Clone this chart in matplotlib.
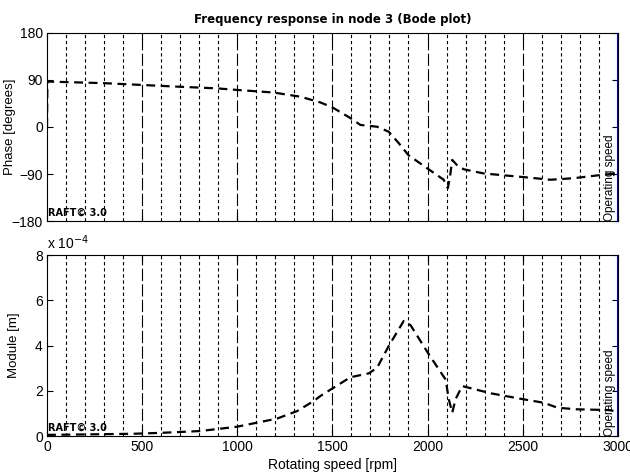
import matplotlib
matplotlib.use("Agg")
import matplotlib.pyplot as plt
import numpy as np

plt.rcParams.update({
    "font.family": ["Liberation Sans", "DejaVu Sans"],
    "font.size": 10,
    "xtick.direction": "in",
    "ytick.direction": "in",
    "xtick.major.size": 4,
    "ytick.major.size": 4,
})

# --- phase response [deg] vs rotating speed [rpm] ---
phase_rpm = [0, 2, 100, 295, 498, 700, 893, 998, 1191, 1332, 1437, 1498, 1595,
             1647, 1735, 1796, 1849, 1900, 1998, 2085, 2107, 2118, 2130, 2160,
             2191, 2296, 2507, 2647, 2769, 2909, 2990]
phase_deg = [0, 87, 86, 84, 80.5, 77, 74, 71, 66, 58, 47, 38, 17,
             4, 0.5, -9, -31, -54, -79, -101, -117, -95, -63, -75,
             -81, -89, -96, -101, -98, -92, -89]

# --- module [x 1e-4 m] vs rotating speed [rpm] ---
module_rpm = [0, 200, 455, 600, 805, 998, 1209, 1314, 1402, 1437, 1507, 1595,
              1691, 1735, 1796, 1875, 1911, 2007, 2095, 2112, 2130, 2147,
              2182, 2332, 2507, 2612, 2683, 2788, 2946, 2990]
module_e4 = [0.05, 0.07, 0.1, 0.14, 0.22, 0.41, 0.77, 1.1, 1.55, 1.77, 2.14, 2.6,
             2.77, 3.02, 3.98, 5.09, 4.9, 3.61, 2.5, 1.62, 1.03, 1.62,
             2.21, 1.89, 1.62, 1.47, 1.25, 1.18, 1.15, 1.1]

speed_ticks = [0, 500, 1000, 1500, 2000, 2500, 3000]
phase_ticks = [-180, -90, 0, 90, 180]
module_ticks = [0, 2, 4, 6, 8]
operating_speed = 3000

fig = plt.figure(figsize=(6.3, 4.76), dpi=100)
ax1 = fig.add_axes([0.0746, 0.5357, 0.906, 0.395])
ax2 = fig.add_axes([0.0746, 0.0840, 0.906, 0.380])

grid_minor = np.arange(100, 3000, 100)


def decorate(ax):
    for x in grid_minor:
        if x % 500 == 0:
            ax.axvline(x, color="black", lw=0.8, dashes=(11, 3))
        else:
            ax.axvline(x, color="black", lw=0.8, dashes=(3, 2.5))
    ax.axvline(operating_speed, color="#0000ff", lw=2.2)
    ax.text(operating_speed - 8, ax.get_ylim()[0], "Operating speed",
            rotation=90, ha="right", va="bottom", fontsize=8.5)
    ax.text(5, ax.get_ylim()[0] + 0.02 * np.ptp(ax.get_ylim()), "RAFT\u00a9 3.0",
            fontsize=7, fontweight="bold", ha="left", va="bottom",
            family=["DejaVu Sans"])
    ax.set_xlim(0, 3000)
    ax.set_xticks(speed_ticks)
    ax.tick_params(top=True, right=True, labelsize=10, length=4, width=0.8, pad=3)
    for s in ax.spines.values():
        s.set_linewidth(0.8)


ax1.set_ylim(-180, 180)
ax1.set_yticks(phase_ticks)
ax1.plot(phase_rpm, phase_deg, color="black", lw=1.6, dashes=(4, 2.5))
decorate(ax1)
ax1.set_xticklabels([])
ax1.set_ylabel("Phase [degrees]", fontsize=9.5)
ax1.yaxis.set_label_coords(-0.055, 0.5)
ax1.set_title("Frequency response in node 3 (Bode plot)", fontsize=8.5,
              fontweight="bold", family=["DejaVu Sans"], pad=7)

ax2.set_ylim(0, 8)
ax2.set_yticks(module_ticks)
ax2.plot(module_rpm, module_e4, color="black", lw=1.6, dashes=(4, 2.5))
decorate(ax2)
ax2.set_ylabel("Module [m]", fontsize=9.5)
ax2.yaxis.set_label_coords(-0.048, 0.5)
ax2.set_xlabel("Rotating speed [rpm]", labelpad=3)
ax2.text(0, 1.015, r"x 10$^{-4}$", transform=ax2.transAxes, ha="left",
         va="bottom", fontsize=10)

fig.savefig("out.png", dpi=100)
